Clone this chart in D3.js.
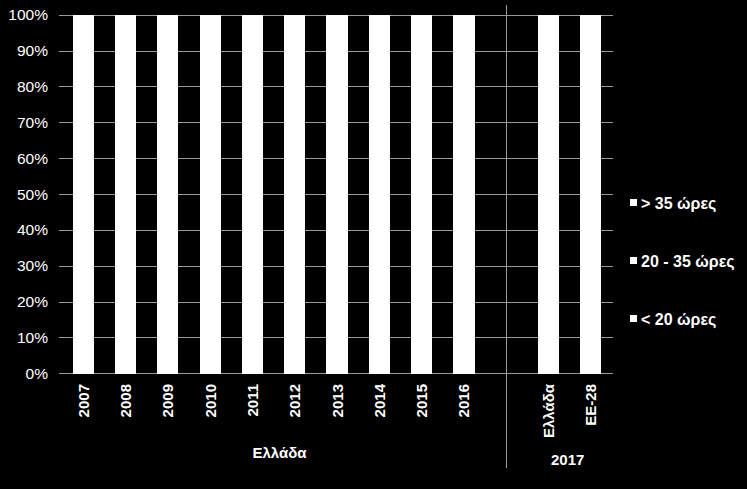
<!DOCTYPE html>
<html lang="el">
<head>
  <meta charset="UTF-8" />
  <title>Απασχόληση ανά ώρες εργασίας</title>
  <script src="https://d3js.org/d3.v7.min.js"></script>
  <style>
    html, body {
      margin: 0;
      padding: 0;
      background: #000;
    }
    svg {
      display: block;
      font-family: "Liberation Sans", Arial, sans-serif;
    }
    .grid line { stroke: #9a9a9a; stroke-width: 1px; }
    .ytick { fill: #fff; font-size: 15.5px; text-anchor: end; }
    .xlab { fill: #fff; font-size: 15px; font-weight: bold; }
    .legend text { fill: #fff; font-size: 16px; font-weight: bold; }
    .bars rect { shape-rendering: crispEdges; }
  </style>
</head>
<body>
  <svg id="chart" width="747" height="489"></svg>

  <script>
    // Categories along the x axis ("" is the gap before the 2017 comparison)
    const categories = ["2007", "2008", "2009", "2010", "2011", "2012", "2013",
                        "2014", "2015", "2016", "", "Ελλάδα", "ΕΕ-28"];

    // Share of employed by usual weekly hours (estimated; bars are drawn 100% stacked)
    const under20 = [4, 4, 4, 5, 5, 5, 6, 6, 6, 6, null, 6, 9];
    const from20to35 = [7, 7, 8, 8, 8, 9, 10, 10, 10, 10, null, 10, 17];
    const over35 = [89, 89, 88, 87, 87, 86, 84, 84, 84, 84, null, 84, 74];

    const seriesNames = ["< 20 ώρες", "20 - 35 ώρες", "> 35 ώρες"];
    const yTicks = [0, 0.1, 0.2, 0.3, 0.4, 0.5, 0.6, 0.7, 0.8, 0.9, 1];

    const svg = d3.select("#chart");
    const plotLeft = 62, plotRight = 612, plotTop = 14.7, plotBottom = 373.3;

    const x = d3.scaleBand()
      .domain(d3.range(categories.length))
      .range([plotLeft, plotRight])
      .paddingInner(0.5)
      .paddingOuter(0.25);

    const y = d3.scaleLinear().domain([0, 1]).range([plotBottom, plotTop]);

    // gridlines
    svg.append("g").attr("class", "grid")
      .selectAll("line")
      .data(yTicks)
      .enter()
      .append("line")
      .attr("x1", plotLeft - 3)
      .attr("x2", plotRight + 1)
      .attr("y1", d => Math.round(y(d)) + 0.5)
      .attr("y2", d => Math.round(y(d)) + 0.5);

    // y tick labels
    svg.selectAll(".ytick")
      .data(yTicks)
      .enter()
      .append("text")
      .attr("class", "ytick")
      .attr("x", 48)
      .attr("y", d => y(d) + 5.5)
      .text(d => d3.format(".0%")(d));

    // stacked bars (normalised to 100%)
    const rows = categories.map((c, i) => ({
      i, a: under20[i], b: from20to35[i], c: over35[i]
    })).filter(d => d.a !== null);

    const stack = d3.stack().keys(["a", "b", "c"]).offset(d3.stackOffsetExpand);
    const layers = stack(rows);

    svg.append("g").attr("class", "bars")
      .selectAll("g")
      .data(layers)
      .enter()
      .append("g")
      .attr("fill", "#fff")
      .selectAll("rect")
      .data(d => d)
      .enter()
      .append("rect")
      .attr("x", d => x(d.data.i))
      .attr("width", x.bandwidth())
      .attr("y", d => Math.round(y(d[1])))
      .attr("height", d => Math.round(y(d[0])) - Math.round(y(d[1])) + 1);

    // separator between the time series and the 2017 comparison
    const sepX = Math.round(x(10) + x.bandwidth() / 2) + 0.5;
    svg.append("line")
      .attr("x1", sepX).attr("x2", sepX)
      .attr("y1", 5).attr("y2", 468)
      .attr("stroke", "#9a9a9a")
      .attr("stroke-width", 1);

    // rotated category labels
    svg.selectAll(".xlab.cat")
      .data(categories.map((c, i) => ({ c, i })).filter(d => d.c !== ""))
      .enter()
      .append("text")
      .attr("class", "xlab cat")
      .attr("text-anchor", "end")
      .attr("transform", d =>
        `translate(${x(d.i) + x.bandwidth() / 2 + 5.5},384) rotate(-90)`)
      .text(d => d.c);

    // group labels
    svg.append("text")
      .attr("class", "xlab")
      .attr("text-anchor", "middle")
      .attr("x", (x(0) + x(9) + x.bandwidth()) / 2 + 6)
      .attr("y", 458)
      .text("Ελλάδα");

    svg.append("text")
      .attr("class", "xlab")
      .attr("text-anchor", "middle")
      .attr("x", (x(11) + x(12) + x.bandwidth()) / 2 - 2)
      .attr("y", 465)
      .text("2017");

    // legend (top entry is the top of the stack)
    const legendY = [203, 261, 319];
    const legend = svg.append("g").attr("class", "legend")
      .selectAll("g")
      .data(seriesNames.slice().reverse())
      .enter()
      .append("g")
      .attr("transform", (d, i) => `translate(630,${legendY[i]})`);

    legend.append("rect")
      .attr("x", 0).attr("y", -4)
      .attr("width", 7).attr("height", 7)
      .attr("fill", "#fff");

    legend.append("text")
      .attr("x", 11)
      .attr("y", 5.5)
      .text(d => d);
  </script>
</body>
</html>
